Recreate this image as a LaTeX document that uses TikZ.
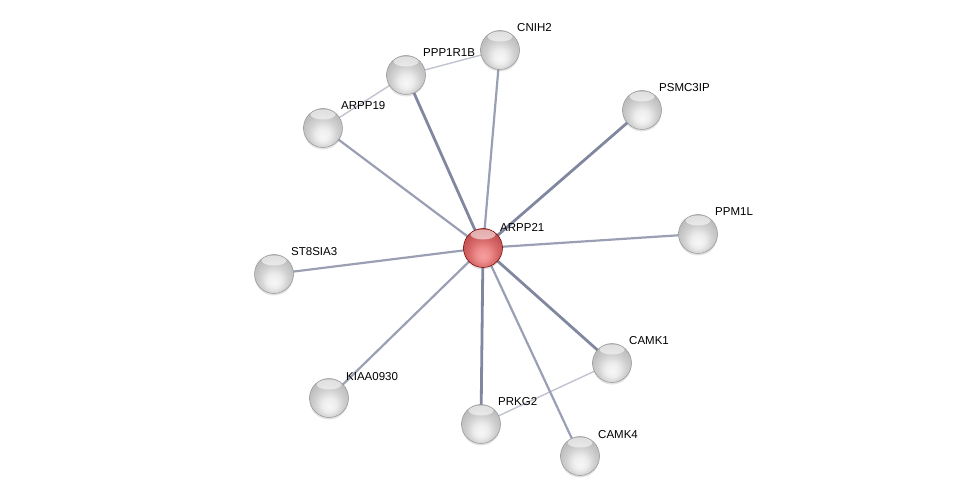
\documentclass[tikz,border=0pt]{standalone}
\usepackage{fontspec}
\setmainfont{Liberation Sans}
\usetikzlibrary{shadows}
\definecolor{eA}{RGB}{130,135,160}
\definecolor{eB}{RGB}{155,159,180}
\definecolor{eC}{RGB}{192,195,208}
\pgfdeclareradialshading{glassgray}{\pgfpoint{0bp}{-11bp}}{%
  color(0bp)=(white!97!black); color(9bp)=(white!93!black); color(18bp)=(white!82!black);
  color(27bp)=(white!74!black); color(36bp)=(white!70!black); color(50bp)=(white!65!black)}
\pgfdeclareradialshading{glassred}{\pgfpoint{0bp}{-11bp}}{%
  color(0bp)=(rgb,255:red,246;green,160;blue,160); color(9bp)=(rgb,255:red,238;green,140;blue,140);
  color(18bp)=(rgb,255:red,215;green,105;blue,105); color(27bp)=(rgb,255:red,196;green,82;blue,82);
  color(36bp)=(rgb,255:red,185;green,70;blue,70); color(50bp)=(rgb,255:red,170;green,60;blue,60)}
\tikzset{
  prot/.style={circle, minimum size=39pt, inner sep=0pt, shading=glassgray,
    draw=white!58!black, line width=0.5pt,
    drop shadow={opacity=0.22, shadow xshift=0pt, shadow yshift=-2pt},
    path picture={\fill[white,opacity=0.55] ([yshift=-6pt]path picture bounding box.north) ellipse [x radius=12.5pt, y radius=5pt];}},
  query/.style={prot, shading=glassred, draw=red!45!black},
  lbl/.style={anchor=west, inner sep=0pt, font=\fontsize{11.5pt}{13pt}\selectfont},
  strong/.style={draw=eA, line width=2.8pt},
  mid/.style={draw=eB, line width=2.2pt},
  weak/.style={draw=eC, line width=1.4pt}
}
\begin{document}
\begin{tikzpicture}[x=1pt,y=-1pt]
\useasboundingbox (0,0) rectangle (976,502);
% node positions
\coordinate (pARPP21) at (483,248);
\coordinate (pCNIH2) at (500,50);
\coordinate (pPPP1R1B) at (406,75);
\coordinate (pARPP19) at (323,128);
\coordinate (pPSMC3IP) at (642,110);
\coordinate (pPPM1L) at (698,234);
\coordinate (pST8SIA3) at (274,274);
\coordinate (pKIAA0930) at (329,398);
\coordinate (pPRKG2) at (481,424);
\coordinate (pCAMK1) at (612,363);
\coordinate (pCAMK4) at (580,456);
% edges
\draw[weak] (pPPP1R1B) -- (pCNIH2);
\draw[weak] (pPPP1R1B) -- (pARPP19);
\draw[weak] (pPRKG2) -- (pCAMK1);
\draw[strong] (pARPP21) -- (pPPP1R1B);
\draw[mid] (pARPP21) -- (pCNIH2);
\draw[mid] (pARPP21) -- (pARPP19);
\draw[strong] (pARPP21) -- (pPSMC3IP);
\draw[mid] (pARPP21) -- (pPPM1L);
\draw[mid] (pARPP21) -- (pST8SIA3);
\draw[mid] (pARPP21) -- (pKIAA0930);
\draw[strong] (pARPP21) -- (pPRKG2);
\draw[strong] (pARPP21) -- (pCAMK1);
\draw[mid] (pARPP21) -- (pCAMK4);
% nodes
\node[query] (ARPP21) at (pARPP21) {};
\node[prot] (CNIH2) at (pCNIH2) {};
\node[prot] (PPP1R1B) at (pPPP1R1B) {};
\node[prot] (ARPP19) at (pARPP19) {};
\node[prot] (PSMC3IP) at (pPSMC3IP) {};
\node[prot] (PPM1L) at (pPPM1L) {};
\node[prot] (ST8SIA3) at (pST8SIA3) {};
\node[prot] (KIAA0930) at (pKIAA0930) {};
\node[prot] (PRKG2) at (pPRKG2) {};
\node[prot] (CAMK1) at (pCAMK1) {};
\node[prot] (CAMK4) at (pCAMK4) {};
% labels
\node[lbl] (tARPP21) at (500,227) {ARPP21};
\node[lbl] (tCNIH2) at (517,28) {CNIH2};
\node[lbl] (tPPP1R1B) at (423,53) {PPP1R1B};
\node[lbl] (tARPP19) at (341,106) {ARPP19};
\node[lbl] (tPSMC3IP) at (659,88) {PSMC3IP};
\node[lbl] (tPPM1L) at (715,212) {PPM1L};
\node[lbl] (tST8SIA3) at (291,252) {ST8SIA3};
\node[lbl] (tKIAA0930) at (346,377) {KIAA0930};
\node[lbl] (tPRKG2) at (498,402) {PRKG2};
\node[lbl] (tCAMK1) at (629,341) {CAMK1};
\node[lbl] (tCAMK4) at (598,435) {CAMK4};
\end{tikzpicture}
\end{document}
